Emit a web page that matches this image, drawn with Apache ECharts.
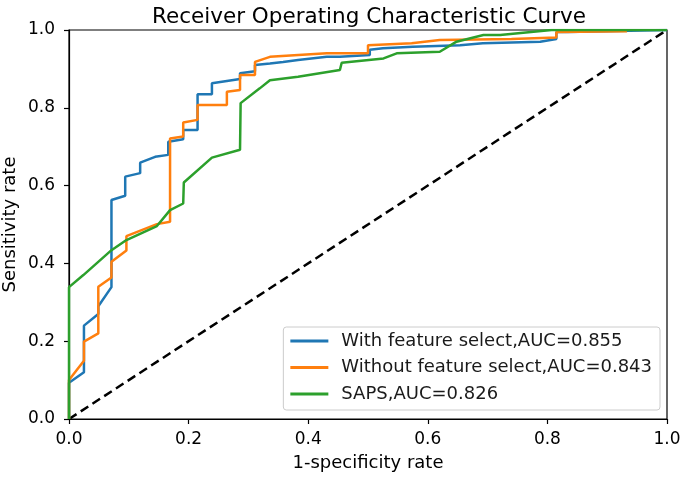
<!DOCTYPE html>
<html><head><meta charset="utf-8">
<script src="https://cdn.jsdelivr.net/npm/echarts@6/dist/echarts.min.js"></script>
<style>html,body{margin:0;padding:0;background:#fff}#c{width:685px;height:477px}</style>
</head><body><div id="c"></div>
<script>
const titleText = "Receiver Operating Characteristic Curve";
const xLabel = "1-specificity rate";
const yLabel = "Sensitivity rate";
const seriesNames = ["With feature select,AUC=0.855", "Without feature select,AUC=0.843", "SAPS,AUC=0.826"];
const blueX = [0,0,0.025,0.025,0.049,0.049,0.071,0.071,0.094,0.094,0.119,0.119,0.144,0.166,0.166,0.191,0.191,0.215,0.215,0.239,0.239,0.264,0.286,0.286,0.311,0.311,0.336,0.358,0.383,0.431,0.453,0.503,0.503,0.525,0.575,0.575,0.654,0.692,0.788,0.815,0.815,0.834,1.0];
const blueY = [0,0.093,0.12,0.24,0.27,0.29,0.339,0.563,0.574,0.623,0.632,0.659,0.674,0.679,0.713,0.719,0.743,0.743,0.835,0.835,0.863,0.869,0.874,0.889,0.894,0.910,0.914,0.918,0.923,0.931,0.931,0.936,0.949,0.953,0.957,0.961,0.961,0.966,0.970,0.977,0.995,0.995,1.0];
const orangeX = [0,0,0.025,0.025,0.049,0.049,0.071,0.071,0.096,0.096,0.147,0.169,0.169,0.191,0.191,0.215,0.215,0.264,0.264,0.286,0.286,0.311,0.311,0.336,0.431,0.5,0.5,0.573,0.573,0.620,0.740,0.815,0.815,0.933];
const orangeY = [0,0.10,0.15,0.199,0.220,0.340,0.364,0.404,0.433,0.470,0.501,0.507,0.721,0.726,0.762,0.769,0.807,0.807,0.841,0.846,0.884,0.884,0.918,0.931,0.940,0.940,0.961,0.966,0.970,0.974,0.977,0.981,0.995,0.997];
const greenX = [0,0,0.024,0.071,0.096,0.147,0.169,0.191,0.192,0.239,0.286,0.287,0.319,0.336,0.383,0.453,0.456,0.526,0.548,0.620,0.648,0.693,0.721,0.807,1.0];
const greenY = [0,0.339,0.370,0.434,0.460,0.496,0.537,0.554,0.608,0.672,0.692,0.812,0.850,0.871,0.880,0.897,0.916,0.927,0.940,0.944,0.970,0.987,0.987,1.0,1.0];
const diagX = [0,1];
const diagY = [0,1];

const zip = (a,b) => a.map((v,i)=>[v,b[i]]);
const font = "DejaVu Sans";
const chart = echarts.init(document.getElementById('c'));
const axisCommon = {
  type:'value', min:0, max:1, interval:0.2,
  axisLine:{show:true,onZero:false,lineStyle:{color:'#000',width:1.2}},
  axisTick:{show:true,length:5,lineStyle:{color:'#000',width:1.2}},
  splitLine:{show:false},
  axisLabel:{color:'#000',fontFamily:font,fontSize:17,formatter:v=>v.toFixed(1)},
  nameTextStyle:{color:'#000',fontFamily:font,fontSize:18}
};
chart.setOption({
  animation:false,
  title:{text:titleText,left:364,top:1,textAlign:'center',textStyle:{color:'#000',fontFamily:font,fontSize:21.5,fontWeight:'normal'}},
  grid:{left:69,right:18,top:30,bottom:58,show:true,borderColor:'#000',borderWidth:1.2,outerBoundsMode:'none',containLabel:false},
  legend:{
    right:25, bottom:67, orient:'vertical', itemWidth:38, itemHeight:3, itemGap:8.5,
    icon:'rect', padding:[5,8,7,7],
    backgroundColor:'#fff', borderColor:'#ccc', borderWidth:1, borderRadius:3,
    textStyle:{color:'#1a1a1a',fontFamily:font,fontSize:18,padding:[0,0,0,8]},
    data:seriesNames
  },
  xAxis:Object.assign({},axisCommon,{name:xLabel,nameLocation:'middle',nameGap:35,nameMoveOverlap:false,axisLabel:Object.assign({},axisCommon.axisLabel,{margin:12})}),
  yAxis:Object.assign({},axisCommon,{name:yLabel,nameLocation:'middle',nameGap:50,nameMoveOverlap:false,axisLabel:Object.assign({},axisCommon.axisLabel,{margin:14})}),
  series:[
    {name:'diag',type:'line',data:zip(diagX,diagY),symbol:'none',lineStyle:{color:'#000',width:2.5,type:[9,5]},z:1,silent:true},
    {name:seriesNames[0],type:'line',data:zip(blueX,blueY),symbol:'none',lineStyle:{color:'#1f77b4',width:2.5},itemStyle:{color:'#1f77b4'},z:2},
    {name:seriesNames[1],type:'line',data:zip(orangeX,orangeY),symbol:'none',lineStyle:{color:'#ff7f0e',width:2.5},itemStyle:{color:'#ff7f0e'},z:3},
    {name:seriesNames[2],type:'line',data:zip(greenX,greenY),symbol:'none',lineStyle:{color:'#2ca02c',width:2.5},itemStyle:{color:'#2ca02c'},z:4}
  ]
});
</script></body></html>
